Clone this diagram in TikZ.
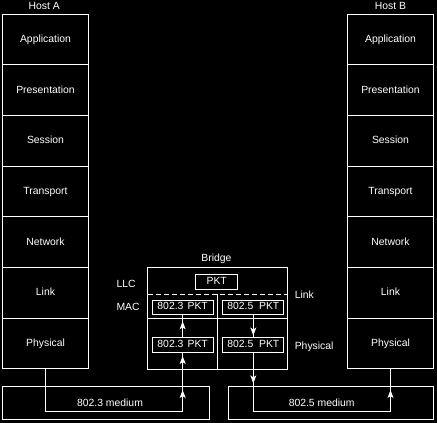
\documentclass[tikz,border=0pt]{standalone}
\usepackage{fontspec}
\setmainfont{Liberation Sans}
\usetikzlibrary{arrows.meta,decorations.markings}
\begin{document}
\begin{tikzpicture}[x=1pt,y=-1pt, line width=1pt, white,
  >={Stealth[length=8pt,width=6pt,inset=2pt]},
  every node/.style={font=\fontsize{10.4}{12}\selectfont, text=white, inner sep=0pt},
  layer/.style={draw, minimum width=86.4pt, minimum height=50.67pt, text height=7.5pt, text depth=2pt},
  pktbox/.style={draw, minimum width=60.7pt, minimum height=14.3pt, text height=7.5pt, text depth=2pt},
  medbox/.style={draw, minimum height=32.6pt},
  tipat/.style={postaction={decorate}, decoration={markings, mark=at position #1 with {\arrow{>}}}},
  tiptwo/.style 2 args={postaction={decorate}, decoration={markings, mark=at position #1 with {\arrow{>}}, mark=at position #2 with {\arrow{>}}}}]
\useasboundingbox (0,0) rectangle (437,423);
\fill[black] (0,0) rectangle (437,423);

% host stacks
\foreach \t [count=\i] in {Application,Presentation,Session,Transport,Network,Link,Physical} {
  \node[layer] (hA\i) at (45.5, {14.3+50.67*\i-25.335}) {\t};
  \node[layer] (hB\i) at (390.5, {14.3+50.67*\i-25.335}) {\t};
}
\node[anchor=base] (hAl) at (44.3,9.8) {Host A};
\node[anchor=base] (hBl) at (390.5,9.8) {Host B};

% bridge
\node[draw, minimum width=139.3pt, minimum height=101.3pt] (br) at (217.35,318.35) {};
\node[anchor=base] (brl) at (216.5,261.4) {Bridge};
\coordinate (dl) at (147.7,294);
\coordinate (dr) at (287,294);
\draw[dash pattern=on 5pt off 3pt] (dl) -- (dr);
\coordinate (sl) at (147.7,318.7);
\coordinate (sr) at (287,318.7);
\draw (sl) -- (sr);
\coordinate (vt) at (217.7,294);
\draw (vt) -- (vt |- br.south);

\node[pktbox, minimum width=42pt, minimum height=15.3pt] (pkt) at (216.7,281.65) {PKT};
\node[pktbox] (macl) at (182.65,307.15) {802.3\hspace{0.4em}PKT};
\node[pktbox] (macr) at (253.3,307.15) {802.5~~PKT};
\node[pktbox] (phl) at (182.65,345) {802.3\hspace{0.4em}PKT};
\node[pktbox] (phr) at (253.3,345) {802.5~~PKT};

\node[anchor=base west] (llc) at (116,287.3) {LLC};
\node[anchor=base west] (mac) at (116,310.7) {MAC};
\node[anchor=base west] (lnk) at (294.3,298) {Link};
\node[anchor=base west] (phy) at (294.3,349) {Physical};

% media
\node[medbox, minimum width=207pt] (m3) at (105.8,403) {};
\node[medbox, minimum width=205.4pt] (m5) at (331,403) {};
\node[anchor=base] (m3l) at (110,406.7) {802.3 medium};
\node[anchor=base] (m5l) at (321.7,406) {802.5 medium};

% connectors
\coordinate (c3) at (phl |- 0,411);
\coordinate (c5) at (phr |- 0,411);
\coordinate (c6) at (hB7 |- 0,411);
\draw (hA7.south) |- (c3);
\draw[tiptwo={21pt}{55pt}] (c3) -- (phl.south);
\draw[tipat=16pt] (phl.north) -- (macl.south);
\draw[tipat=20.7pt] (macr.south) -- (phr.north);
\draw[tipat=30.7pt] (phr.south) -- (c5);
\draw (c5) -- (c6);
\draw[tipat=21pt] (c6) -- (hB7.south);
\end{tikzpicture}
\end{document}
